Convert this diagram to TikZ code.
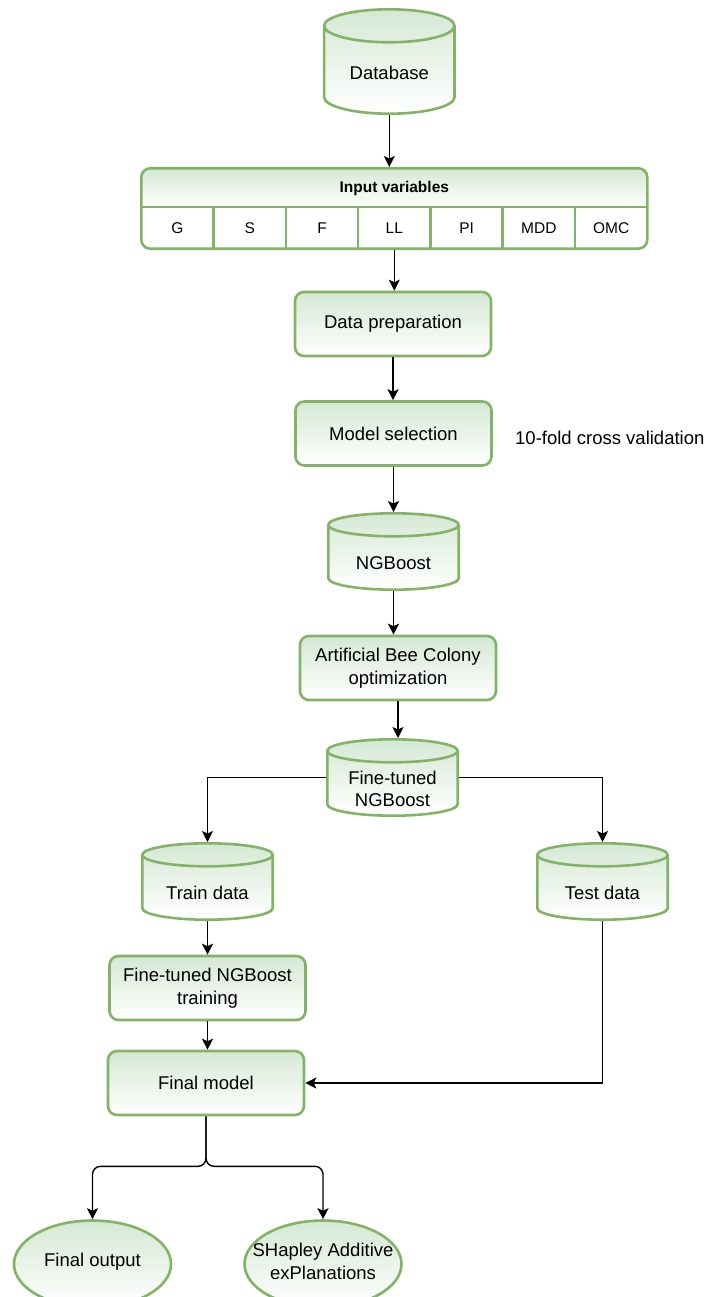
\documentclass[tikz,border=0pt]{standalone}
\usepackage{fontspec}
\setmainfont{Liberation Sans}
\usetikzlibrary{arrows.meta,shapes.geometric,calc}
\definecolor{gborder}{HTML}{82B366}
\definecolor{gfill}{HTML}{D5E8D4}
\tikzset{
  every node/.style={font=\fontsize{18.5}{22.5}\selectfont, text=black},
  box/.style={draw=gborder, line width=2.6pt, rounded corners=9pt, top color=gfill, bottom color=white,
    minimum width=196pt, minimum height=64pt, inner sep=0pt, align=center},
  shapebg/.style={draw=gborder, line width=2.6pt, top color=gfill, bottom color=white},
  greenline/.style={draw=gborder, line width=2.6pt},
  cylbox/.style={draw=none, inner sep=0pt, outer sep=1.3pt},
  txt/.style={align=center, inner sep=0pt},
  oval/.style={ellipse, draw=gborder, line width=2.6pt, top color=gfill, bottom color=white,
    minimum width=157pt, minimum height=87pt, inner sep=0pt, align=center},
  arr/.style={draw=black, line width=1.4pt, -{Stealth[length=11pt,width=11pt,inset=2.5pt]}},
}
% #1 name, #2 cx, #3 ytop, #4 ybot (y downward, px), #5 half width, #6 ellipse ry
\newcommand\dbcyl[6]{%
  \path[shapebg] ({#2-#5},{-(#3)-(#6)}) -- ({#2-#5},{-(#4)+(#6)})
    arc[start angle=180,end angle=360,x radius=#5,y radius=#6]
    -- ({#2+#5},{-(#3)-(#6)})
    arc[start angle=0,end angle=180,x radius=#5,y radius=#6] -- cycle;
  \draw[greenline] ({#2-#5},{-(#3)-(#6)}) arc[start angle=180,end angle=360,x radius=#5,y radius=#6];
  \node[cylbox, minimum width={2*#5}, minimum height={#4-#3}] (#1) at (#2,{-(#3+#4)/2}) {};
}
\begin{document}
\begin{tikzpicture}[x=1pt,y=1pt]
\useasboundingbox (0,0) rectangle (707,-1297);

% Database
\dbcyl{db}{389.3}{9.3}{113.7}{65.2}{16.5}
\node[txt] (dbt) at (389.3,-73) {Database};

% Input variables table
\node[draw=none, inner sep=0pt, outer sep=1.3pt, minimum width=506pt, minimum height=80.4pt] (tbl) at (394.3,-208.5) {};
\begin{scope}
  \clip[rounded corners=9pt] (141.3,-168.3) rectangle (647.3,-248.7);
  \fill[white] (141.3,-168.3) rectangle (647.3,-248.7);
  \shade[top color=gfill, bottom color=white] (141.3,-168.3) rectangle (647.3,-207);
\end{scope}
\draw[greenline] (141.3,-207) -- (647.3,-207);
\foreach \k in {1,...,6} {
  \draw[greenline] ({141.3+72.286*\k},-207) -- ({141.3+72.286*\k},-248.7);
}
\draw[greenline, rounded corners=9pt] (141.3,-168.3) rectangle (647.3,-248.7);
\node[txt, font=\fontsize{15.5}{18}\selectfont\bfseries] (hdr) at (394.3,-188) {Input variables};
\foreach \t [count=\i] in {G,S,F,LL,PI,MDD,OMC} {
  \node[inner sep=0pt, outer sep=1.3pt, minimum width=72.286pt, minimum height=41.7pt,
        font=\fontsize{15.5}{18}\selectfont] (c\i) at ({141.3+72.286*(\i-0.5)},-227.85) {\t};
}

% Boxes
\node[box] (prep) at (393,-324) {Data preparation};
\node[box] (model) at (393.5,-433.5) {Model selection};
\node[txt, anchor=west] (cv) at (515,-438) {10-fold cross validation};

\dbcyl{ngb}{393.5}{513.3}{589.7}{65.2}{11.5}
\node[txt] (ngbt) at (393.5,-563) {NGBoost};

\node[box] (abc) at (398,-668) {Artificial Bee Colony\\optimization};

\dbcyl{ft}{392.5}{739.3}{815.7}{65.2}{11.5}
\node[txt] (ftt) at (392.5,-789) {Fine-tuned\\NGBoost};

\dbcyl{train}{207.5}{843.3}{919.7}{65.2}{11.5}
\node[txt] (traint) at (207.5,-893) {Train data};

\dbcyl{test}{602.5}{843.3}{919.7}{65.2}{11.5}
\node[txt] (testt) at (602.5,-893) {Test data};

\node[box] (fttrain) at (207.5,-988) {Fine-tuned NGBoost\\training};
\node[box] (final) at (206,-1083) {Final model};

\node[oval] (out1) at (92.5,-1264) {};
\node[txt] (out1t) at (92.5,-1261.5) {Final output};
\node[oval] (out2) at (323,-1264) {};
\node[txt] (out2t) at (323,-1261.5) {SHapley Additive\\exPlanations};

% Connectors
\draw[arr] (db.south) -- (db.south |- tbl.north);
\draw[arr] (c4.south) -- (c4.south |- prep.north);
\draw[arr] (prep.south) -- (prep.south |- model.north);
\draw[arr] (model.south) -- (model.south |- ngb.north);
\draw[arr] (ngb.south) -- (ngb.south |- abc.north);
\draw[arr] (abc.south) -- (abc.south |- ft.north);
\draw[arr] (ft.west) -| (train.north);
\draw[arr] (ft.east) -| (test.north);
\draw[arr] (train.south) -- (train.south |- fttrain.north);
\draw[arr] (fttrain.south) -- (fttrain.south |- final.north);
\draw[arr] (test.south) |- (final.east);
\coordinate (split) at ($(final.south)+(0,-50)$);
\draw[arr, rounded corners=8pt] (final.south) -- (split) -| (out1.north);
\draw[arr, rounded corners=8pt] (final.south) -- (split) -| (out2.north);
\end{tikzpicture}
\end{document}
